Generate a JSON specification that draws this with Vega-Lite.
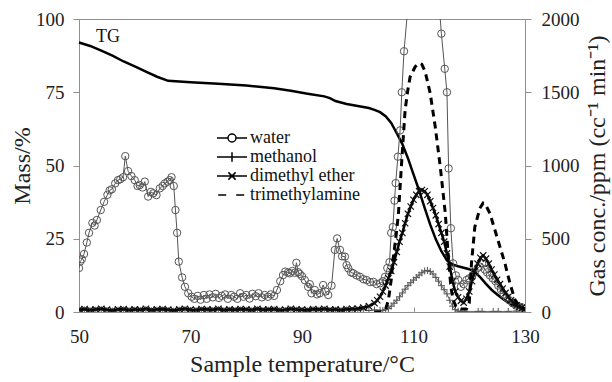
{
  "$schema": "https://vega.github.io/schema/vega-lite/v6.json",
  "width": 446,
  "height": 293,
  "autosize": {"type": "none"},
  "padding": {"left": 79, "top": 19, "right": 87, "bottom": 70},
  "background": "white",
  "config": {
    "view": {"stroke": "#909090", "strokeWidth": 1},
    "axis": {
      "grid": false,
      "domainColor": "#909090",
      "tickColor": "#909090",
      "labelFont": "Liberation Serif",
      "titleFont": "Liberation Serif",
      "labelFontSize": 19,
      "titleFontSize": 24,
      "titleFontWeight": "normal",
      "labelColor": "#222",
      "titleColor": "#222",
      "labelFlush": false,
      "format": "d"
    },
    "legend": {"padding": 0}
  },
  "datasets": {
    "tg": [
      {"T": 50, "m": 92}, {"T": 52, "m": 90.8}, {"T": 54, "m": 89.2}, {"T": 56, "m": 87.5}, {"T": 58, "m": 85.5},
      {"T": 60, "m": 83.8}, {"T": 62, "m": 82}, {"T": 64, "m": 80.3}, {"T": 66, "m": 78.9}, {"T": 70, "m": 78.4},
      {"T": 75, "m": 77.9}, {"T": 80, "m": 77.3}, {"T": 85, "m": 76.4}, {"T": 88, "m": 75.5}, {"T": 91, "m": 74.5},
      {"T": 94, "m": 73.6}, {"T": 95, "m": 73}, {"T": 96, "m": 72}, {"T": 98, "m": 71}, {"T": 100, "m": 70.3},
      {"T": 102, "m": 69.6}, {"T": 103, "m": 69}, {"T": 104, "m": 68.2}, {"T": 105, "m": 66.8}, {"T": 106, "m": 64.5},
      {"T": 107, "m": 61}, {"T": 108, "m": 57.3}, {"T": 109, "m": 52.5}, {"T": 110, "m": 47}, {"T": 111, "m": 41.5},
      {"T": 112, "m": 35.5}, {"T": 113, "m": 29.8}, {"T": 114, "m": 24.8}, {"T": 115, "m": 20.8}, {"T": 116, "m": 17.6},
      {"T": 117, "m": 16.2}, {"T": 118, "m": 15.6}, {"T": 119, "m": 15.1}, {"T": 120, "m": 14.6}, {"T": 121, "m": 13.6},
      {"T": 122, "m": 11.8}, {"T": 123, "m": 9.6}, {"T": 124, "m": 7.6}, {"T": 125, "m": 6}, {"T": 126, "m": 4.5},
      {"T": 127, "m": 3.2}, {"T": 128, "m": 2.2}, {"T": 129, "m": 1.5}, {"T": 130, "m": 1}
    ],
    "lbl": [{"T": 55.2, "m": 93.9, "label": "TG"}],
    "gas": [
      {"s": "water", "T": 50.0, "v": 300}, {"s": "water", "T": 50.2, "v": 344}, {"s": "water", "T": 50.5, "v": 360},
      {"s": "water", "T": 50.9, "v": 396}, {"s": "water", "T": 51.4, "v": 474}, {"s": "water", "T": 51.8, "v": 540},
      {"s": "water", "T": 52.4, "v": 608}, {"s": "water", "T": 52.8, "v": 590}, {"s": "water", "T": 53.2, "v": 628},
      {"s": "water", "T": 53.9, "v": 696}, {"s": "water", "T": 54.5, "v": 752}, {"s": "water", "T": 55.1, "v": 800},
      {"s": "water", "T": 55.5, "v": 830}, {"s": "water", "T": 55.9, "v": 838}, {"s": "water", "T": 56.5, "v": 878},
      {"s": "water", "T": 57.0, "v": 900}, {"s": "water", "T": 57.4, "v": 906}, {"s": "water", "T": 57.9, "v": 920},
      {"s": "water", "T": 58.3, "v": 1064}, {"s": "water", "T": 58.8, "v": 962}, {"s": "water", "T": 59.4, "v": 928},
      {"s": "water", "T": 60.0, "v": 900}, {"s": "water", "T": 60.5, "v": 860}, {"s": "water", "T": 60.9, "v": 866},
      {"s": "water", "T": 61.4, "v": 850}, {"s": "water", "T": 61.8, "v": 890}, {"s": "water", "T": 62.4, "v": 788},
      {"s": "water", "T": 62.9, "v": 820}, {"s": "water", "T": 63.3, "v": 810}, {"s": "water", "T": 63.9, "v": 798},
      {"s": "water", "T": 64.5, "v": 844}, {"s": "water", "T": 65.0, "v": 860}, {"s": "water", "T": 65.4, "v": 878},
      {"s": "water", "T": 65.9, "v": 890}, {"s": "water", "T": 66.3, "v": 900}, {"s": "water", "T": 66.6, "v": 920},
      {"s": "water", "T": 67.0, "v": 860}, {"s": "water", "T": 67.3, "v": 696}, {"s": "water", "T": 67.6, "v": 540},
      {"s": "water", "T": 67.9, "v": 344}, {"s": "water", "T": 68.5, "v": 236}, {"s": "water", "T": 69.0, "v": 172},
      {"s": "water", "T": 69.6, "v": 128}, {"s": "water", "T": 70.2, "v": 104}, {"s": "water", "T": 70.7, "v": 90},
      {"s": "water", "T": 71.3, "v": 110}, {"s": "water", "T": 71.8, "v": 84}, {"s": "water", "T": 72.4, "v": 116},
      {"s": "water", "T": 72.9, "v": 90}, {"s": "water", "T": 73.4, "v": 120}, {"s": "water", "T": 74.0, "v": 100},
      {"s": "water", "T": 74.5, "v": 124}, {"s": "water", "T": 75.1, "v": 96}, {"s": "water", "T": 75.6, "v": 110},
      {"s": "water", "T": 76.2, "v": 120}, {"s": "water", "T": 76.7, "v": 90}, {"s": "water", "T": 77.3, "v": 116},
      {"s": "water", "T": 77.8, "v": 104}, {"s": "water", "T": 78.4, "v": 90}, {"s": "water", "T": 78.9, "v": 128},
      {"s": "water", "T": 79.5, "v": 104}, {"s": "water", "T": 80.0, "v": 116}, {"s": "water", "T": 80.6, "v": 92},
      {"s": "water", "T": 81.1, "v": 124}, {"s": "water", "T": 81.7, "v": 108}, {"s": "water", "T": 82.2, "v": 128},
      {"s": "water", "T": 82.8, "v": 100}, {"s": "water", "T": 83.3, "v": 116}, {"s": "water", "T": 83.9, "v": 104},
      {"s": "water", "T": 84.4, "v": 120}, {"s": "water", "T": 85.0, "v": 110}, {"s": "water", "T": 85.5, "v": 150},
      {"s": "water", "T": 86.1, "v": 210}, {"s": "water", "T": 86.6, "v": 252}, {"s": "water", "T": 87.0, "v": 276},
      {"s": "water", "T": 87.5, "v": 270}, {"s": "water", "T": 87.8, "v": 264}, {"s": "water", "T": 88.3, "v": 280},
      {"s": "water", "T": 88.7, "v": 268}, {"s": "water", "T": 89.0, "v": 336}, {"s": "water", "T": 89.3, "v": 272},
      {"s": "water", "T": 89.6, "v": 260}, {"s": "water", "T": 90.0, "v": 244}, {"s": "water", "T": 90.5, "v": 218},
      {"s": "water", "T": 91.1, "v": 172}, {"s": "water", "T": 91.4, "v": 190}, {"s": "water", "T": 91.7, "v": 128},
      {"s": "water", "T": 92.3, "v": 150}, {"s": "water", "T": 92.7, "v": 120}, {"s": "water", "T": 93.2, "v": 128},
      {"s": "water", "T": 93.8, "v": 184}, {"s": "water", "T": 94.2, "v": 140}, {"s": "water", "T": 94.7, "v": 116},
      {"s": "water", "T": 95.3, "v": 180}, {"s": "water", "T": 95.9, "v": 424}, {"s": "water", "T": 96.3, "v": 502},
      {"s": "water", "T": 96.8, "v": 424}, {"s": "water", "T": 97.2, "v": 380}, {"s": "water", "T": 97.7, "v": 378},
      {"s": "water", "T": 98.0, "v": 320}, {"s": "water", "T": 98.3, "v": 298}, {"s": "water", "T": 98.8, "v": 270},
      {"s": "water", "T": 99.2, "v": 264}, {"s": "water", "T": 99.8, "v": 250}, {"s": "water", "T": 100.4, "v": 240},
      {"s": "water", "T": 101.0, "v": 224}, {"s": "water", "T": 101.6, "v": 218}, {"s": "water", "T": 102.2, "v": 204},
      {"s": "water", "T": 102.8, "v": 206}, {"s": "water", "T": 103.4, "v": 190}, {"s": "water", "T": 104.0, "v": 196},
      {"s": "water", "T": 104.5, "v": 210}, {"s": "water", "T": 104.9, "v": 240}, {"s": "water", "T": 105.3, "v": 300},
      {"s": "water", "T": 105.7, "v": 340}, {"s": "water", "T": 106.0, "v": 540}, {"s": "water", "T": 106.3, "v": 580},
      {"s": "water", "T": 106.6, "v": 760}, {"s": "water", "T": 106.8, "v": 880}, {"s": "water", "T": 107.2, "v": 1060},
      {"s": "water", "T": 107.6, "v": 1240}, {"s": "water", "T": 107.9, "v": 1500}, {"s": "water", "T": 108.3, "v": 1780},
      {"s": "water", "T": 112.0, "v": 3400}, {"s": "water", "T": 115.0, "v": 1900}, {"s": "water", "T": 115.6, "v": 1660},
      {"s": "water", "T": 116.0, "v": 1500}, {"s": "water", "T": 116.3, "v": 980}, {"s": "water", "T": 116.7, "v": 572},
      {"s": "water", "T": 117.1, "v": 332}, {"s": "water", "T": 117.6, "v": 250}, {"s": "water", "T": 118.0, "v": 220},
      {"s": "water", "T": 118.5, "v": 172}, {"s": "water", "T": 119.0, "v": 190}, {"s": "water", "T": 119.5, "v": 218},
      {"s": "water", "T": 120.0, "v": 230}, {"s": "water", "T": 120.5, "v": 240}, {"s": "water", "T": 121.0, "v": 270},
      {"s": "water", "T": 121.5, "v": 300}, {"s": "water", "T": 121.9, "v": 310}, {"s": "water", "T": 122.3, "v": 332},
      {"s": "water", "T": 122.8, "v": 290}, {"s": "water", "T": 123.2, "v": 270}, {"s": "water", "T": 123.7, "v": 250},
      {"s": "water", "T": 124.2, "v": 230}, {"s": "water", "T": 124.7, "v": 210}, {"s": "water", "T": 125.2, "v": 180},
      {"s": "water", "T": 125.7, "v": 150}, {"s": "water", "T": 126.2, "v": 120}, {"s": "water", "T": 126.7, "v": 100},
      {"s": "water", "T": 127.2, "v": 80}, {"s": "water", "T": 127.8, "v": 60}, {"s": "water", "T": 128.4, "v": 44},
      {"s": "water", "T": 129.0, "v": 36}, {"s": "water", "T": 129.6, "v": 30}, {"s": "water", "T": 130.0, "v": 20},

      {"s": "methanol", "T": 50, "v": 10}, {"s": "methanol", "T": 51, "v": 14}, {"s": "methanol", "T": 52, "v": 8},
      {"s": "methanol", "T": 53, "v": 12}, {"s": "methanol", "T": 54, "v": 16}, {"s": "methanol", "T": 55, "v": 10},
      {"s": "methanol", "T": 56, "v": 6}, {"s": "methanol", "T": 57, "v": 12}, {"s": "methanol", "T": 58, "v": 14},
      {"s": "methanol", "T": 59, "v": 8}, {"s": "methanol", "T": 60, "v": 12}, {"s": "methanol", "T": 61, "v": 10},
      {"s": "methanol", "T": 62, "v": 16}, {"s": "methanol", "T": 63, "v": 8}, {"s": "methanol", "T": 64, "v": 12},
      {"s": "methanol", "T": 65, "v": 14}, {"s": "methanol", "T": 66, "v": 10}, {"s": "methanol", "T": 67, "v": 6},
      {"s": "methanol", "T": 68, "v": 12}, {"s": "methanol", "T": 69, "v": 16}, {"s": "methanol", "T": 70, "v": 10},
      {"s": "methanol", "T": 71, "v": 8}, {"s": "methanol", "T": 72, "v": 14}, {"s": "methanol", "T": 73, "v": 12},
      {"s": "methanol", "T": 74, "v": 10}, {"s": "methanol", "T": 75, "v": 16}, {"s": "methanol", "T": 76, "v": 8},
      {"s": "methanol", "T": 77, "v": 12}, {"s": "methanol", "T": 78, "v": 10}, {"s": "methanol", "T": 79, "v": 14},
      {"s": "methanol", "T": 80, "v": 12}, {"s": "methanol", "T": 81, "v": 8}, {"s": "methanol", "T": 82, "v": 16},
      {"s": "methanol", "T": 83, "v": 10}, {"s": "methanol", "T": 84, "v": 12}, {"s": "methanol", "T": 85, "v": 14},
      {"s": "methanol", "T": 86, "v": 8}, {"s": "methanol", "T": 87, "v": 10}, {"s": "methanol", "T": 88, "v": 16},
      {"s": "methanol", "T": 89, "v": 12}, {"s": "methanol", "T": 90, "v": 10}, {"s": "methanol", "T": 91, "v": 8},
      {"s": "methanol", "T": 92, "v": 14}, {"s": "methanol", "T": 93, "v": 12}, {"s": "methanol", "T": 94, "v": 16},
      {"s": "methanol", "T": 95, "v": 10}, {"s": "methanol", "T": 96, "v": 12}, {"s": "methanol", "T": 97, "v": 8},
      {"s": "methanol", "T": 98, "v": 14}, {"s": "methanol", "T": 99, "v": 10}, {"s": "methanol", "T": 100, "v": 12},
      {"s": "methanol", "T": 101, "v": 16}, {"s": "methanol", "T": 102, "v": 10}, {"s": "methanol", "T": 103, "v": 14},
      {"s": "methanol", "T": 104, "v": 12}, {"s": "methanol", "T": 104.5, "v": 10}, {"s": "methanol", "T": 105, "v": 16},
      {"s": "methanol", "T": 105.5, "v": 24}, {"s": "methanol", "T": 106, "v": 40}, {"s": "methanol", "T": 106.5, "v": 60},
      {"s": "methanol", "T": 107, "v": 80}, {"s": "methanol", "T": 107.5, "v": 104}, {"s": "methanol", "T": 108, "v": 130},
      {"s": "methanol", "T": 108.5, "v": 156}, {"s": "methanol", "T": 109, "v": 180}, {"s": "methanol", "T": 109.5, "v": 200},
      {"s": "methanol", "T": 110, "v": 218}, {"s": "methanol", "T": 110.5, "v": 236}, {"s": "methanol", "T": 111, "v": 252},
      {"s": "methanol", "T": 111.5, "v": 268}, {"s": "methanol", "T": 112, "v": 280}, {"s": "methanol", "T": 112.5, "v": 284},
      {"s": "methanol", "T": 113, "v": 276}, {"s": "methanol", "T": 113.5, "v": 260}, {"s": "methanol", "T": 114, "v": 236},
      {"s": "methanol", "T": 114.5, "v": 210}, {"s": "methanol", "T": 115, "v": 180}, {"s": "methanol", "T": 115.5, "v": 152},
      {"s": "methanol", "T": 116, "v": 124}, {"s": "methanol", "T": 116.5, "v": 80}, {"s": "methanol", "T": 117, "v": 40},
      {"s": "methanol", "T": 117.5, "v": 16}, {"s": "methanol", "T": 118, "v": 6}, {"s": "methanol", "T": 118.5, "v": 4},
      {"s": "methanol", "T": 119.2, "v": 4}, {"s": "methanol", "T": 121.6, "v": 4}, {"s": "methanol", "T": 122.3, "v": 4},
      {"s": "methanol", "T": 124.3, "v": 4}, {"s": "methanol", "T": 125.2, "v": 4}, {"s": "methanol", "T": 127, "v": 4},
      {"s": "methanol", "T": 128.5, "v": 6}, {"s": "methanol", "T": 129.5, "v": 8}, {"s": "methanol", "T": 130, "v": 8},

      {"s": "dimethyl ether", "T": 50, "v": 16}, {"s": "dimethyl ether", "T": 51, "v": 20}, {"s": "dimethyl ether", "T": 52, "v": 14},
      {"s": "dimethyl ether", "T": 53, "v": 18}, {"s": "dimethyl ether", "T": 54, "v": 22}, {"s": "dimethyl ether", "T": 55, "v": 16},
      {"s": "dimethyl ether", "T": 56, "v": 12}, {"s": "dimethyl ether", "T": 57, "v": 18}, {"s": "dimethyl ether", "T": 58, "v": 20},
      {"s": "dimethyl ether", "T": 59, "v": 14}, {"s": "dimethyl ether", "T": 60, "v": 18}, {"s": "dimethyl ether", "T": 61, "v": 16},
      {"s": "dimethyl ether", "T": 62, "v": 22}, {"s": "dimethyl ether", "T": 63, "v": 14}, {"s": "dimethyl ether", "T": 64, "v": 18},
      {"s": "dimethyl ether", "T": 65, "v": 20}, {"s": "dimethyl ether", "T": 66, "v": 16}, {"s": "dimethyl ether", "T": 67, "v": 12},
      {"s": "dimethyl ether", "T": 68, "v": 18}, {"s": "dimethyl ether", "T": 69, "v": 22}, {"s": "dimethyl ether", "T": 70, "v": 16},
      {"s": "dimethyl ether", "T": 71, "v": 14}, {"s": "dimethyl ether", "T": 72, "v": 20}, {"s": "dimethyl ether", "T": 73, "v": 18},
      {"s": "dimethyl ether", "T": 74, "v": 16}, {"s": "dimethyl ether", "T": 75, "v": 22}, {"s": "dimethyl ether", "T": 76, "v": 14},
      {"s": "dimethyl ether", "T": 77, "v": 18}, {"s": "dimethyl ether", "T": 78, "v": 16}, {"s": "dimethyl ether", "T": 79, "v": 20},
      {"s": "dimethyl ether", "T": 80, "v": 18}, {"s": "dimethyl ether", "T": 81, "v": 14}, {"s": "dimethyl ether", "T": 82, "v": 22},
      {"s": "dimethyl ether", "T": 83, "v": 16}, {"s": "dimethyl ether", "T": 84, "v": 18}, {"s": "dimethyl ether", "T": 85, "v": 20},
      {"s": "dimethyl ether", "T": 86, "v": 14}, {"s": "dimethyl ether", "T": 87, "v": 16}, {"s": "dimethyl ether", "T": 88, "v": 22},
      {"s": "dimethyl ether", "T": 89, "v": 18}, {"s": "dimethyl ether", "T": 90, "v": 16}, {"s": "dimethyl ether", "T": 91, "v": 14},
      {"s": "dimethyl ether", "T": 92, "v": 20}, {"s": "dimethyl ether", "T": 93, "v": 18}, {"s": "dimethyl ether", "T": 94, "v": 22},
      {"s": "dimethyl ether", "T": 95, "v": 16}, {"s": "dimethyl ether", "T": 96, "v": 18}, {"s": "dimethyl ether", "T": 97, "v": 14},
      {"s": "dimethyl ether", "T": 98, "v": 20}, {"s": "dimethyl ether", "T": 99, "v": 22}, {"s": "dimethyl ether", "T": 100, "v": 24},
      {"s": "dimethyl ether", "T": 101, "v": 30}, {"s": "dimethyl ether", "T": 102, "v": 40}, {"s": "dimethyl ether", "T": 103, "v": 60},
      {"s": "dimethyl ether", "T": 103.5, "v": 80}, {"s": "dimethyl ether", "T": 104, "v": 104}, {"s": "dimethyl ether", "T": 104.5, "v": 140},
      {"s": "dimethyl ether", "T": 105, "v": 180}, {"s": "dimethyl ether", "T": 105.5, "v": 230}, {"s": "dimethyl ether", "T": 106, "v": 280},
      {"s": "dimethyl ether", "T": 106.5, "v": 340}, {"s": "dimethyl ether", "T": 107, "v": 410}, {"s": "dimethyl ether", "T": 107.5, "v": 480},
      {"s": "dimethyl ether", "T": 108, "v": 540}, {"s": "dimethyl ether", "T": 108.5, "v": 606}, {"s": "dimethyl ether", "T": 109, "v": 670},
      {"s": "dimethyl ether", "T": 109.5, "v": 720}, {"s": "dimethyl ether", "T": 110, "v": 766}, {"s": "dimethyl ether", "T": 110.5, "v": 800},
      {"s": "dimethyl ether", "T": 111, "v": 824}, {"s": "dimethyl ether", "T": 111.5, "v": 832}, {"s": "dimethyl ether", "T": 112, "v": 824},
      {"s": "dimethyl ether", "T": 112.5, "v": 800}, {"s": "dimethyl ether", "T": 113, "v": 756}, {"s": "dimethyl ether", "T": 113.5, "v": 710},
      {"s": "dimethyl ether", "T": 114, "v": 660}, {"s": "dimethyl ether", "T": 114.5, "v": 600}, {"s": "dimethyl ether", "T": 115, "v": 540},
      {"s": "dimethyl ether", "T": 115.5, "v": 480}, {"s": "dimethyl ether", "T": 116, "v": 400}, {"s": "dimethyl ether", "T": 116.5, "v": 310},
      {"s": "dimethyl ether", "T": 117, "v": 210}, {"s": "dimethyl ether", "T": 117.5, "v": 140}, {"s": "dimethyl ether", "T": 118, "v": 100},
      {"s": "dimethyl ether", "T": 118.5, "v": 76}, {"s": "dimethyl ether", "T": 119, "v": 64}, {"s": "dimethyl ether", "T": 119.5, "v": 90},
      {"s": "dimethyl ether", "T": 120, "v": 140}, {"s": "dimethyl ether", "T": 120.5, "v": 210}, {"s": "dimethyl ether", "T": 121, "v": 280},
      {"s": "dimethyl ether", "T": 121.5, "v": 330}, {"s": "dimethyl ether", "T": 122, "v": 370}, {"s": "dimethyl ether", "T": 122.5, "v": 386},
      {"s": "dimethyl ether", "T": 123, "v": 364}, {"s": "dimethyl ether", "T": 123.5, "v": 330}, {"s": "dimethyl ether", "T": 124, "v": 290},
      {"s": "dimethyl ether", "T": 124.5, "v": 256}, {"s": "dimethyl ether", "T": 125, "v": 220}, {"s": "dimethyl ether", "T": 125.5, "v": 190},
      {"s": "dimethyl ether", "T": 126, "v": 160}, {"s": "dimethyl ether", "T": 126.5, "v": 130}, {"s": "dimethyl ether", "T": 127, "v": 104},
      {"s": "dimethyl ether", "T": 127.5, "v": 80}, {"s": "dimethyl ether", "T": 128, "v": 60}, {"s": "dimethyl ether", "T": 128.5, "v": 46},
      {"s": "dimethyl ether", "T": 129, "v": 36}, {"s": "dimethyl ether", "T": 129.5, "v": 30}, {"s": "dimethyl ether", "T": 130, "v": 24},

      {"s": "trimethylamine", "T": 103, "v": 0}, {"s": "trimethylamine", "T": 104, "v": 0}, {"s": "trimethylamine", "T": 105, "v": 20},
      {"s": "trimethylamine", "T": 105.5, "v": 80}, {"s": "trimethylamine", "T": 106, "v": 220}, {"s": "trimethylamine", "T": 106.4, "v": 378},
      {"s": "trimethylamine", "T": 107, "v": 560}, {"s": "trimethylamine", "T": 107.3, "v": 674}, {"s": "trimethylamine", "T": 107.9, "v": 1038},
      {"s": "trimethylamine", "T": 108.5, "v": 1380}, {"s": "trimethylamine", "T": 109, "v": 1520}, {"s": "trimethylamine", "T": 109.4, "v": 1606},
      {"s": "trimethylamine", "T": 110.3, "v": 1674}, {"s": "trimethylamine", "T": 111, "v": 1698}, {"s": "trimethylamine", "T": 111.5, "v": 1690},
      {"s": "trimethylamine", "T": 112.1, "v": 1640}, {"s": "trimethylamine", "T": 113, "v": 1492}, {"s": "trimethylamine", "T": 113.9, "v": 1264},
      {"s": "trimethylamine", "T": 114.8, "v": 992}, {"s": "trimethylamine", "T": 115.7, "v": 674}, {"s": "trimethylamine", "T": 116.2, "v": 400},
      {"s": "trimethylamine", "T": 116.7, "v": 172}, {"s": "trimethylamine", "T": 117.1, "v": 82}, {"s": "trimethylamine", "T": 117.6, "v": 40},
      {"s": "trimethylamine", "T": 118.5, "v": 20}, {"s": "trimethylamine", "T": 119.5, "v": 20}, {"s": "trimethylamine", "T": 120, "v": 60},
      {"s": "trimethylamine", "T": 120.4, "v": 332}, {"s": "trimethylamine", "T": 121, "v": 580}, {"s": "trimethylamine", "T": 121.9, "v": 708},
      {"s": "trimethylamine", "T": 122.5, "v": 744}, {"s": "trimethylamine", "T": 122.8, "v": 742}, {"s": "trimethylamine", "T": 123.7, "v": 674},
      {"s": "trimethylamine", "T": 124.6, "v": 560}, {"s": "trimethylamine", "T": 125.5, "v": 446}, {"s": "trimethylamine", "T": 126.4, "v": 332},
      {"s": "trimethylamine", "T": 127.3, "v": 196}, {"s": "trimethylamine", "T": 128.2, "v": 82}, {"s": "trimethylamine", "T": 129.1, "v": 36},
      {"s": "trimethylamine", "T": 130, "v": 16}
    ]
  },
  "encoding": {
    "x": {
      "field": "T",
      "type": "quantitative",
      "scale": {"domain": [50, 130], "nice": false, "zero": false},
      "axis": {
        "title": "Sample temperature/°C",
        "values": [50, 70, 90, 110, 130],
        "format": "d",
        "labelFont": "Liberation Serif",
        "labelFlush": false,
        "tickSize": -5,
        "labelPadding": 20,
        "titlePadding": 6
      }
    }
  },
  "layer": [
    {
      "data": {"name": "tg"},
      "encoding": {
        "y": {
          "field": "m",
          "type": "quantitative",
          "scale": {"domain": [0, 100], "nice": false},
          "axis": {
            "orient": "left",
            "title": "Mass/%",
            "values": [0, 25, 50, 75, 100],
            "format": "d",
            "labelFont": "Liberation Serif",
            "tickSize": 6,
            "labelPadding": 9,
            "titlePadding": 1
          }
        }
      },
      "layer": [
        {"mark": {"type": "line", "color": "#000", "strokeWidth": 2.5}},
        {
          "data": {"name": "lbl"},
          "mark": {"type": "text", "font": "Liberation Serif", "fontSize": 18, "color": "#111", "align": "center", "baseline": "middle"},
          "encoding": {"text": {"field": "label"}}
        }
      ]
    },
    {
      "data": {"name": "gas"},
      "encoding": {
        "y": {
          "field": "v",
          "type": "quantitative",
          "scale": {"domain": [0, 2000], "nice": false},
          "axis": {
            "orient": "right",
            "title": "Gas conc./ppm (cc⁻¹ min⁻¹)",
            "values": [0, 500, 1000, 1500, 2000],
            "format": "d",
            "labelFont": "Liberation Serif",
            "tickSize": 6,
            "labelPadding": 10,
            "titleAngle": -90,
            "titleBaseline": "top",
            "titlePadding": 6
          }
        }
      },
      "layer": [
        {
          "transform": [{"filter": "datum.s === 'water'"}],
          "mark": {"type": "line", "color": "#555", "strokeWidth": 1, "clip": true}
        },
        {
          "transform": [{"filter": "datum.s === 'water' && datum.v < 2100"}],
          "mark": {"type": "point", "shape": "circle", "filled": false, "color": "#555", "size": 55, "strokeWidth": 1, "opacity": 1, "clip": true}
        },
        {
          "transform": [{"filter": "datum.s === 'methanol'"}],
          "mark": {"type": "line", "color": "#666", "strokeWidth": 1, "clip": true}
        },
        {
          "transform": [{"filter": "datum.s === 'methanol'"}],
          "mark": {"type": "point", "shape": "M-1,0H1M0,-1V1", "filled": false, "color": "#555", "size": 49, "strokeWidth": 1, "opacity": 1, "clip": true}
        },
        {
          "transform": [{"filter": "datum.s === 'dimethyl ether'"}],
          "mark": {"type": "line", "color": "#000", "strokeWidth": 2.5, "clip": true}
        },
        {
          "transform": [{"filter": "datum.s === 'dimethyl ether'"}],
          "mark": {"type": "point", "shape": "M-1,-1L1,1M-1,1L1,-1", "filled": false, "color": "#111", "size": 40, "strokeWidth": 1.2, "opacity": 1, "clip": true}
        },
        {
          "transform": [{"filter": "datum.s === 'trimethylamine'"}],
          "mark": {"type": "line", "color": "#000", "strokeWidth": 3, "strokeDash": [7, 5], "clip": true}
        },
        {
          "transform": [{"filter": "datum.v < -1"}],
          "mark": {"type": "point", "filled": false, "opacity": 1, "color": "#000"},
          "encoding": {
            "shape": {
              "field": "s",
              "type": "nominal",
              "scale": {
                "domain": ["water", "methanol", "dimethyl ether", "trimethylamine"],
                "range": [
                  "M-1,0H1.75M1.75,0A1,1 0 1,1 3.75,0A1,1 0 1,1 1.75,0M3.75,0H6.5",
                  "M-1,0H6.5M2.75,-1.2V1.2",
                  "M-1,0H6.5M1.85,-0.9L3.65,0.9M1.85,0.9L3.65,-0.9",
                  "M-0.7,0H1.3M3.8,0H5.8"
                ]
              },
              "legend": {
                "title": null,
                "orient": "none",
                "legendX": 133,
                "legendY": 110,
                "symbolSize": 64,
                "labelOffset": 20,
                "labelFont": "Liberation Serif",
                "labelFontSize": 18,
                "labelColor": "#111",
                "rowPadding": 1,
                "symbolOpacity": 1,
                "encode": {
                  "symbols": {
                    "update": {
                      "strokeWidth": {"signal": "datum.value === 'dimethyl ether' || datum.value === 'trimethylamine' ? 3 : 1"},
                      "stroke": {"signal": "datum.value === 'water' || datum.value === 'methanol' ? '#555' : '#000'"},
                      "fill": {"value": "transparent"},
                      "opacity": {"value": 1}
                    }
                  }
                }
              }
            }
          }
        }
      ]
    }
  ],
  "resolve": {"scale": {"y": "independent"}}
}
